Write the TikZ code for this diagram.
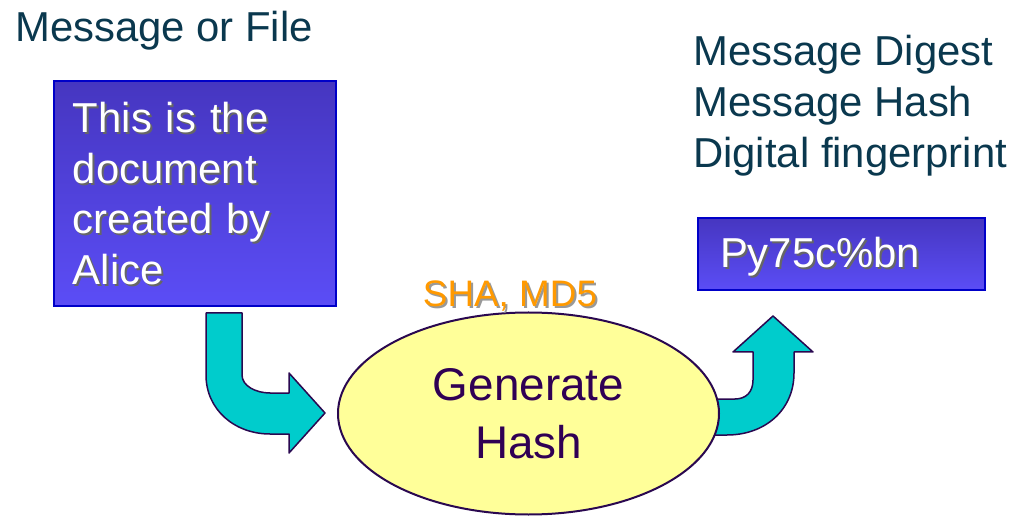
\documentclass[tikz,border=0pt]{standalone}
\usepackage{fontspec}
\setmainfont{Liberation Sans}
\usetikzlibrary{shapes,calc,backgrounds}
\definecolor{capteal}{RGB}{10,56,78}
\definecolor{boxtop}{RGB}{70,54,192}
\definecolor{boxbot}{RGB}{91,77,246}
\definecolor{boxedge}{RGB}{0,0,200}
\definecolor{arrowfill}{RGB}{0,204,204}
\definecolor{darkline}{RGB}{42,8,80}
\definecolor{hashfill}{RGB}{255,255,153}
\definecolor{hashtext}{RGB}{48,0,84}
\definecolor{algo}{RGB}{255,153,0}

\begin{document}
\begin{tikzpicture}[x=1bp,y=-1bp,
  capt/.style={text=capteal,font=\fontsize{42}{51}\selectfont,inner sep=0pt,align=left},
  bluebox/.style={draw=boxedge,line width=2bp,top color=boxtop,bottom color=boxbot,inner sep=0pt},
  boxtext/.style={font=\fontsize{42}{51}\selectfont,inner sep=0pt,align=left},
  blockarrow/.style={draw=darkline,fill=arrowfill,line width=1.5bp,line join=round},
  hashnode/.style={ellipse,draw=darkline,fill=hashfill,line width=2bp,text=hashtext,
    font=\fontsize{46}{58}\selectfont,align=center,inner sep=0pt}]
\useasboundingbox (0,0) rectangle (1023,516);
\node[capt,anchor=base west] (src) at (15,42) {Message or File};
\node[capt,anchor=north west] (names) at (693,35) {Message Digest\\Message Hash\\Digital fingerprint};
\node[bluebox,minimum width=282bp,minimum height=225bp] (doc) at (195,193.5) {};
\foreach \col/\off in {black!60/2,white/0}
  \node[boxtext,text width=244bp,text=\col] (doctxt\off) at ($(doc.center)+(\off,\off)$) {This is the\\document\\created by\\Alice};
\node[bluebox,minimum width=287bp,minimum height=72bp] (digest) at (841.5,254) {};
\foreach \col/\off in {black!60/2,white/0}
  \node[boxtext,text width=243bp,text=\col] (digtxt\off) at ($(digest.center)+(\off,3+\off)$) {Py75c\%bn};
\node[hashnode,minimum width=381bp,minimum height=202bp] (hash) at (528.5,413.5) {Generate\\Hash};
\foreach \col/\off in {black!40/2,algo/0}
  \node[font=\fontsize{37}{44}\selectfont,text=\col,inner sep=0pt,anchor=base] (algo\off) at ($(510,307)+(\off,\off)$) {SHA, MD5};
\begin{pgfonlayer}{background}
\draw[blockarrow] (206,313) -- (242,313) -- (242,375) .. controls (242,386) and (256,393) .. (270,393)
  -- (289,393) -- (289,373) -- (325,413) -- (289,453) -- (289,434) -- (270,434)
  .. controls (235,434) and (206,410) .. (206,375) -- cycle;
\draw[blockarrow] (700,399) -- (735,399) .. controls (746,399) and (753,392) .. (753,380)
  -- (753,352) -- (733,352) -- (773,316) -- (813,352) -- (794,352) -- (794,373)
  .. controls (794,410) and (765,435) .. (727,435) -- (700,435) -- cycle;
\end{pgfonlayer}
\end{tikzpicture}
\end{document}
